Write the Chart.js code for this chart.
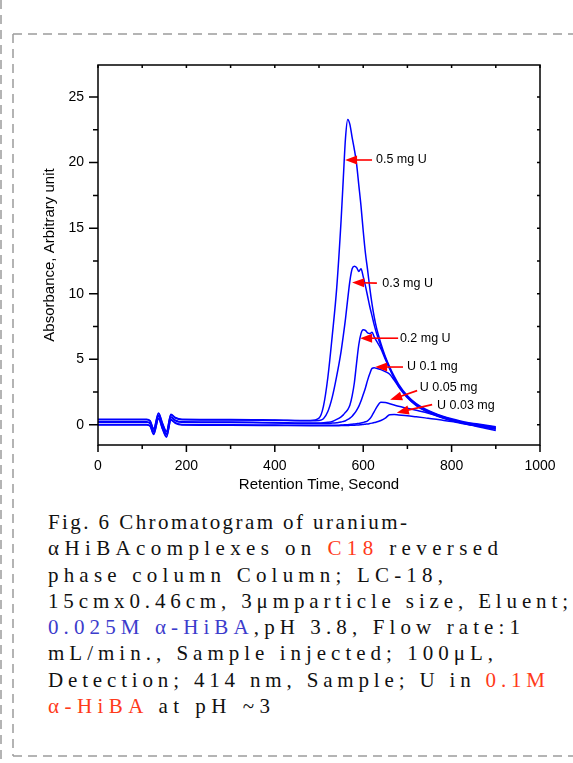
<!DOCTYPE html>
<html>
<head>
<meta charset="utf-8">
<script src="https://cdn.jsdelivr.net/npm/chart.js@4.4.1/dist/chart.umd.min.js"></script>
<style>
  body { margin: 0; background: #fff; width: 573px; height: 763px; overflow: hidden; position: relative; }
  #frame { position: absolute; left: 0; top: 0; }
  #chart { position: absolute; left: 0; top: 0; }
  #caption { position: absolute; left: 48px; top: 509px; font-family: "Liberation Serif", "Times New Roman", serif;
             font-size: 21px; line-height: 26.3px; color: #111; white-space: nowrap; }
  #caption .ln { width: max-content; }
  .r { color: #ff3a1a; }
  .b { color: #3c3ccc; }
</style>
</head>
<body>
<svg id="frame" width="573" height="763">
  <g stroke="#9c9c9c" stroke-width="1.5" stroke-dasharray="9 6" fill="none">
    <line x1="1" y1="0" x2="1" y2="763"/>
    <line x1="13" y1="34" x2="573" y2="34"/>
    <line x1="13" y1="34" x2="13" y2="756"/>
    <line x1="13" y1="756" x2="573" y2="756"/>
  </g>
</svg>
<canvas id="chart" width="573" height="500"></canvas>
<div id="caption">
  <div class="ln">Fig. 6 Chromatogram of uranium-</div>
  <div class="ln">αHiBAcomplexes on <span class="r">C18</span> reversed</div>
  <div class="ln">phase column Column; LC-18,</div>
  <div class="ln">15cmx0.46cm, 3μmparticle size, Eluent;</div>
  <div class="ln"><span class="b">0.025M α-HiBA</span>,pH 3.8, Flow rate:1</div>
  <div class="ln">mL/min., Sample injected; 100μL,</div>
  <div class="ln">Detection; 414 nm, Sample; U in <span class="r">0.1M</span></div>
  <div class="ln"><span class="r">α-HiBA</span> at pH ~3</div>
</div>
<script>
'use strict'

// retention time (s) shared by all traces
const retentionTime = [0, 110, 118, 126, 137, 146, 155, 165, 175, 190,
  300, 400, 480, 500, 510, 520, 530, 540, 550, 555,
  560, 565, 570, 575, 580, 585, 590, 595, 600, 605,
  610, 615, 620, 625, 630, 640, 650, 660, 670, 680,
  700, 720, 740, 760, 780, 800, 830, 860, 900];

// absorbance for each injected amount
const u05 = [0.42, 0.42, 0.3, -0.3, 0.9, 0.1, -0.5, 0.8, 0.55, 0.42,
  0.4, 0.36, 0.32, 0.5, 1.4, 3.6, 6.8, 10.4, 15.6, 18.8,
  21.9, 23.3, 22.9, 21.9, 21.0, 19.9, 18.3, 16.7, 14.8, 13.1,
  11.8, 10.4, 9.2, 8.2, 7.4, 6.2, 5.2, 4.4, 3.7, 3.1,
  2.2, 1.6, 1.2, 0.9, 0.65, 0.45, 0.2, 0.05, -0.15];
const u03 = [0.38, 0.38, 0.26, -0.35, 0.85, 0.05, -0.55, 0.75, 0.5, 0.38,
  0.36, 0.33, 0.3, 0.32, 0.45, 1.0, 2.1, 3.7, 5.6, 6.8,
  8.1, 9.6, 11.0, 11.9, 12.1, 12.0, 11.7, 11.9, 11.3, 10.6,
  9.8, 9.0, 8.3, 7.6, 7.0, 6.0, 5.1, 4.3, 3.6, 3.0,
  2.15, 1.55, 1.15, 0.85, 0.6, 0.4, 0.15, 0.0, -0.2];
const u02 = [0.22, 0.22, 0.12, -0.5, 0.7, -0.1, -0.7, 0.6, 0.35, 0.22,
  0.2, 0.16, 0.12, 0.12, 0.14, 0.18, 0.25, 0.4, 0.6, 0.75,
  0.95, 1.15, 1.5, 2.2, 3.2, 4.7, 6.1, 6.95, 7.25, 7.2,
  7.0, 6.95, 7.05, 6.7, 6.4, 5.8, 5.0, 4.25, 3.55, 2.95,
  2.1, 1.5, 1.1, 0.8, 0.55, 0.35, 0.12, -0.05, -0.25];
const u01 = [0.18, 0.18, 0.08, -0.55, 0.65, -0.15, -0.75, 0.55, 0.3, 0.18,
  0.16, 0.13, 0.1, 0.1, 0.1, 0.1, 0.12, 0.15, 0.2, 0.25,
  0.3, 0.4, 0.5, 0.65, 0.85, 1.1, 1.4, 1.8, 2.3, 2.8,
  3.4, 3.9, 4.3, 4.35, 4.3, 4.2, 4.05, 3.85, 3.4, 2.9,
  2.05, 1.45, 1.05, 0.75, 0.5, 0.3, 0.08, -0.1, -0.3];
const u005 = [0.02, 0.02, -0.08, -0.7, 0.5, -0.3, -0.9, 0.4, 0.15, 0.02,
  0.0, -0.03, -0.05, -0.05, -0.05, -0.05, -0.05, -0.04, -0.03, -0.02,
  0.0, 0.0, 0.02, 0.04, 0.06, 0.08, 0.1, 0.13, 0.17, 0.22,
  0.3, 0.45, 0.7, 1.0, 1.3, 1.72, 1.7, 1.6, 1.5, 1.4,
  1.25, 1.1, 0.95, 0.75, 0.55, 0.35, 0.1, -0.1, -0.35];
const u003 = [-0.02, -0.02, -0.12, -0.75, 0.45, -0.35, -0.95, 0.35, 0.1, -0.02,
  -0.04, -0.06, -0.08, -0.08, -0.08, -0.08, -0.08, -0.08, -0.07, -0.07,
  -0.06, -0.06, -0.05, -0.05, -0.04, -0.03, -0.02, 0.0, 0.02, 0.04,
  0.06, 0.09, 0.12, 0.16, 0.2, 0.32, 0.5, 0.76, 0.77, 0.74,
  0.68, 0.6, 0.52, 0.44, 0.34, 0.24, 0.05, -0.15, -0.45];

const seriesNames = ['0.5 mg U', '0.3 mg U', '0.2 mg U', 'U 0.1 mg', 'U 0.05 mg', 'U 0.03 mg'];
const seriesValues = [u05, u03, u02, u01, u005, u003];

// axis ticks
const xTicks = [0, 100, 200, 300, 400, 500, 600, 700, 800, 900, 1000];
const xLabels = [0, 200, 400, 600, 800, 1000];
const yTicks = [0, 2.5, 5, 7.5, 10, 12.5, 15, 17.5, 20, 22.5, 25];
const yLabels = [0, 5, 10, 15, 20, 25];

// red arrows with their labels (data coords): tip, tail, text start
const notes = [
  {text: seriesNames[0], tip: [559, 20.2], tail: [620, 20.2], at: [629, 20.2]},
  {text: seriesNames[1], tip: [575, 10.85], tail: [631, 10.8], at: [643, 10.8]},
  {text: seriesNames[2], tip: [593, 6.6], tail: [679, 6.6], at: [683, 6.6]},
  {text: seriesNames[3], tip: [627, 4.4], tail: [690, 4.4], at: [699, 4.4]},
  {text: seriesNames[4], tip: [661, 1.9], tail: [722, 2.6], at: [728, 2.85]},
  {text: seriesNames[5], tip: [676, 0.92], tail: [756, 1.53], at: [767, 1.45]}
];

const tickFont = {family: '"Liberation Sans", Arial, sans-serif', size: 14};
const titleFont = {family: '"Liberation Sans", Arial, sans-serif', size: 15};

// box around plot + tick marks (out on left/bottom, in on top/right)
const frameTicks = {
  id: 'frameTicks',
  afterDraw(chart) {
    const {ctx, chartArea: a, scales: {x, y}} = chart;
    ctx.save();
    ctx.strokeStyle = '#000';
    ctx.lineWidth = 1.5;
    ctx.strokeRect(a.left, a.top, a.right - a.left, a.bottom - a.top);
    ctx.beginPath();
    xTicks.forEach(v => {
      const px = x.getPixelForValue(v);
      ctx.moveTo(px, a.bottom);
      ctx.lineTo(px, a.bottom + (xLabels.includes(v) ? 7 : 4));
      ctx.moveTo(px, a.top);
      ctx.lineTo(px, a.top + 3);
    });
    yTicks.forEach(v => {
      const py = y.getPixelForValue(v);
      ctx.moveTo(a.left, py);
      ctx.lineTo(a.left - (yLabels.includes(v) ? 9 : 5), py);
      ctx.moveTo(a.right, py);
      ctx.lineTo(a.right - 3, py);
    });
    ctx.stroke();
    ctx.restore();
  }
};

const arrows = {
  id: 'arrows',
  afterDatasetsDraw(chart) {
    const {ctx, scales: {x, y}} = chart;
    ctx.save();
    notes.forEach(n => {
      const x1 = x.getPixelForValue(n.tail[0]), y1 = y.getPixelForValue(n.tail[1]);
      const x2 = x.getPixelForValue(n.tip[0]), y2 = y.getPixelForValue(n.tip[1]);
      const ang = Math.atan2(y2 - y1, x2 - x1);
      const c = Math.cos(ang), s = Math.sin(ang);
      ctx.strokeStyle = '#ff0000';
      ctx.lineWidth = 1.6;
      ctx.beginPath();
      ctx.moveTo(x1, y1);
      ctx.lineTo(x2 - 9 * c, y2 - 9 * s);
      ctx.stroke();
      ctx.fillStyle = '#ff0000';
      ctx.beginPath();
      ctx.moveTo(x2, y2);
      ctx.lineTo(x2 - 12 * c + 4.5 * s, y2 - 12 * s - 4.5 * c);
      ctx.lineTo(x2 - 12 * c - 4.5 * s, y2 - 12 * s + 4.5 * c);
      ctx.closePath();
      ctx.fill();
      ctx.fillStyle = '#000';
      ctx.font = '12.5px "Liberation Sans", Arial, sans-serif';
      ctx.textBaseline = 'middle';
      ctx.fillText(n.text, x.getPixelForValue(n.at[0]), y.getPixelForValue(n.at[1]));
    });
    ctx.restore();
  }
};

new Chart(document.getElementById('chart'), {
  type: 'line',
  data: {
    datasets: seriesValues.map((vals, i) => ({
      label: seriesNames[i],
      data: retentionTime.map((t, j) => ({x: t, y: vals[j]})),
      borderColor: '#0000ff',
      borderWidth: 1.5,
      pointRadius: 0,
      cubicInterpolationMode: 'monotone',
      fill: false
    }))
  },
  options: {
    responsive: false,
    animation: false,
    layout: {padding: {left: 0, top: 65, right: 33, bottom: 0}},
    plugins: {legend: {display: false}, tooltip: {enabled: false}},
    scales: {
      x: {
        type: 'linear', min: 0, max: 1000,
        afterBuildTicks: s => { s.ticks = xTicks.map(v => ({value: v})); },
        afterFit: s => { s.height = 55; },
        ticks: {callback: v => xLabels.includes(v) ? v : '', autoSkip: false, maxRotation: 0,
                padding: 6, color: '#000', font: tickFont},
        grid: {display: false, tickLength: 7},
        border: {display: false},
        title: {display: true, text: 'Retention Time, Second', color: '#000', font: titleFont,
                padding: {top: 0, bottom: 6}}
      },
      y: {
        type: 'linear', min: -1.55, max: 27.45,
        afterBuildTicks: s => { s.ticks = yTicks.map(v => ({value: v})); },
        afterFit: s => { s.width = 98; },
        ticks: {callback: v => yLabels.includes(v) ? v : '', autoSkip: false,
                padding: 5, color: '#000', font: tickFont},
        grid: {display: false, tickLength: 9},
        border: {display: false},
        title: {display: true, text: 'Absorbance, Arbitrary unit', color: '#000', font: titleFont,
                padding: {top: 41, bottom: 0}}
      }
    }
  },
  plugins: [frameTicks, arrows]
});

// spread each caption line to its width in the figure
const captionLineEnds = [407, 498, 443, 568, 520, 493, 545, 270];
document.querySelectorAll('#caption .ln').forEach((ln, i) => {
  const w = ln.getBoundingClientRect().width;
  const n = ln.textContent.length;
  ln.style.letterSpacing = ((captionLineEnds[i] - 48 - w) / (n - 1)) + 'px';
});
</script>
</body>
</html>
